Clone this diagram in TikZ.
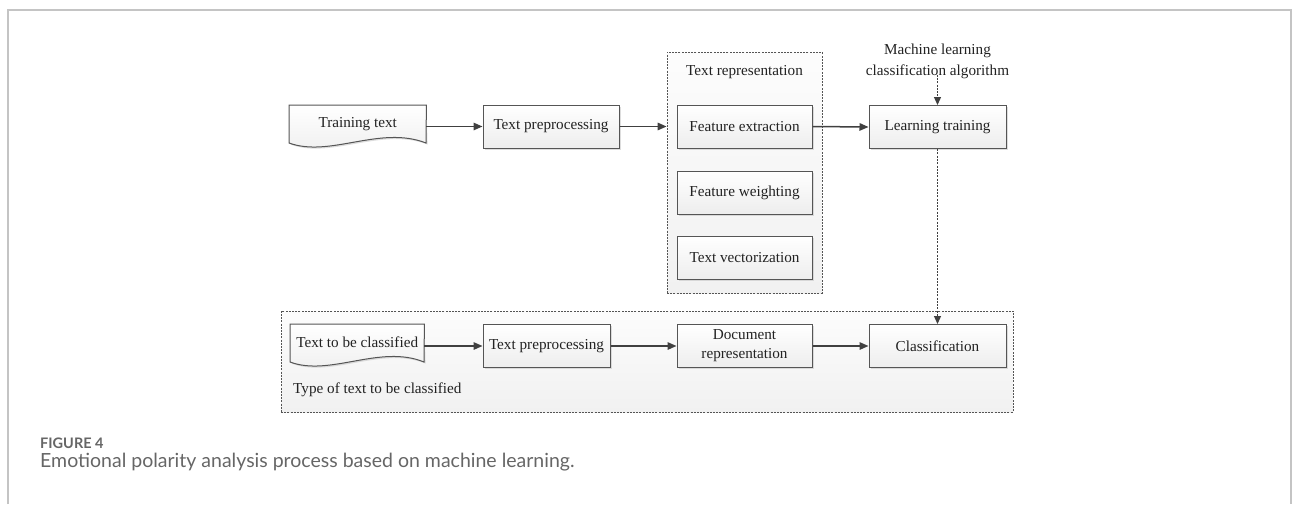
\documentclass[tikz,border=0pt]{standalone}
\usepackage{fontspec}
\setmainfont{Liberation Serif}
\newfontfamily\capfont{Lato}
\usetikzlibrary{arrows.meta,shadows,positioning,calc}
\definecolor{bordc}{HTML}{555555}
\definecolor{arrc}{HTML}{404040}
\definecolor{txtc}{HTML}{222222}
\definecolor{framec}{HTML}{C4C4C4}
\definecolor{capc}{HTML}{666666}
\tikzset{
  procbox/.style={draw=bordc, line width=1pt, top color=white, bottom color=gray!14,
    drop shadow={shadow xshift=1.6pt, shadow yshift=-1.6pt, fill=gray!45, opacity=0.6},
    minimum width=136pt, minimum height=43pt, align=center, text=txtc,
    font=\fontsize{15.2}{17}\selectfont, inner sep=0pt},
  docbox/.style={minimum width=136pt, minimum height=38pt, text=txtc,
    font=\fontsize{15.2}{17}\selectfont, inner sep=0pt},
  groupbox/.style={draw=bordc, line width=0.8pt, dash pattern=on 2pt off 1.2pt,
    top color=gray!2, bottom color=gray!11, inner sep=0pt},
  flow/.style={draw=arrc, line width=1.5pt, -{Triangle[length=9pt,width=7.5pt]}},
  dflow/.style={draw=arrc, line width=1.2pt, dash pattern=on 2pt off 1.3pt,
    -{Triangle[length=8pt,width=7pt]}},
  lbl/.style={text=txtc, font=\fontsize{15.2}{21}\selectfont, inner sep=0pt, align=center},
}
\begin{document}
\begin{tikzpicture}[x=1pt,y=-1pt]
\useasboundingbox (0,0) rectangle (1293,504);
% outer frame
\draw[framec, line width=1.5pt] (8,504) -- (8,10) -- (1291,10) -- (1291,504);

% group boxes
\node[groupbox, minimum width=155pt, minimum height=241pt] (rep) at (744.5,172.5) {};
\node[groupbox, minimum width=732pt, minimum height=101pt] (bot) at (647,361.5) {};

% top row
\node[docbox, anchor=north west, minimum width=137pt] (tt) at (289,105) {\raisebox{2pt}{Training text}};
\fill[gray!45, opacity=0.6, shift={(1.6pt,-1.6pt)}]
  (tt.north west) -- (tt.north east) -- (426,143)
  .. controls (380,125) and (330,158) .. (289,143) -- cycle;
\draw[draw=bordc, line width=1pt, top color=white, bottom color=gray!14]
  (tt.north west) -- (tt.north east) -- (426,143)
  .. controls (380,125) and (330,158) .. (289,143) -- cycle;
\node[docbox, anchor=north west, minimum width=137pt] at (289,105) {\raisebox{2pt}{Training text}};

\node[procbox] (tp1) at (551,126.5) {Text preprocessing};
\node[lbl] (trl) at (744.5,72) {Text representation};
\node[procbox, minimum width=135pt] (fe) at (744.5,126.5) {Feature extraction};
\node[procbox, minimum width=135pt] (fw) at (744.5,192.5) {Feature weighting};
\node[procbox, minimum width=135pt] (tv) at (744.5,258) {Text vectorization};
\node[procbox, minimum width=137pt] (lt) at (937.5,127) {Learning training};
\node[lbl] (mla) at (937.5,61) {Machine learning\\classification algorithm};

% bottom row
\node[docbox, anchor=north west, minimum width=134pt] (tbc) at (290,324) {\raisebox{2pt}{Text to be classified}};
\fill[gray!45, opacity=0.6, shift={(1.6pt,-1.6pt)}]
  (tbc.north west) -- (tbc.north east) -- (424,362)
  .. controls (380,344) and (330,377) .. (290,362) -- cycle;
\draw[draw=bordc, line width=1pt, top color=white, bottom color=gray!14]
  (tbc.north west) -- (tbc.north east) -- (424,362)
  .. controls (380,344) and (330,377) .. (290,362) -- cycle;
\node[docbox, anchor=north west, minimum width=134pt] at (290,324) {\raisebox{2pt}{Text to be classified}};

\node[procbox, minimum width=127pt] (tp2) at (546.5,346) {Text preprocessing};
\node[procbox, minimum width=135pt, font=\fontsize{15.2}{19}\selectfont] (dr) at (744.5,346) {Document\\representation};
\node[procbox, minimum width=137pt] (cl) at (937.5,346) {Classification};
\node[lbl, anchor=west] (typ) at (293,390) {Type of text to be classified};

% connectors
\draw[flow] (tt.east |- tp1.west) -- (tp1.west);
\draw[flow] (tp1.east) -- (tp1.east -| rep.west);
\draw[flow] (fe.east) -- (lt.west);
\draw[dflow] ([yshift=4pt]mla.south) -- (lt.north);
\draw[dflow] (lt.south) -- (cl.north);
\draw[flow] (tbc.east |- tp2.west) -- (tp2.west);
\draw[flow] (tp2.east) -- (dr.west);
\draw[flow] (dr.east) -- (cl.west);

% caption
\node[anchor=base west, inner sep=0pt, text=capc, font=\capfont\bfseries\fontsize{14.5}{16}\selectfont] (fig) at (40,448) {FIGURE 4};
\node[anchor=base west, inner sep=0pt, text=capc, font=\capfont\fontsize{19.5}{22}\selectfont] (cap) at (40,467) {Emotional polarity analysis process based on machine learning.};
\end{tikzpicture}
\end{document}
